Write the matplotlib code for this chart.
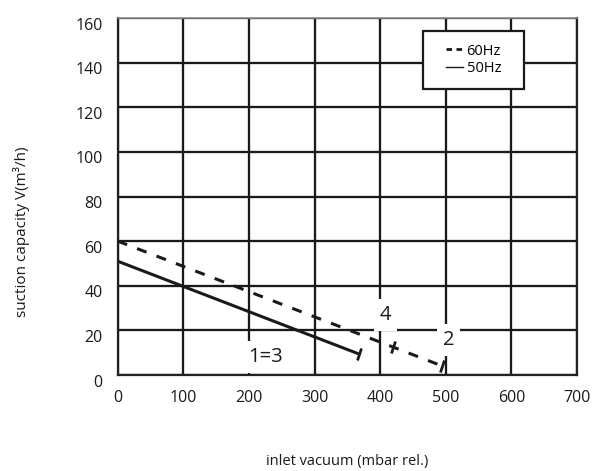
import numpy as np
import matplotlib
matplotlib.use("Agg")
import matplotlib.pyplot as plt
from matplotlib.markers import MarkerStyle
from matplotlib.transforms import Affine2D, ScaledTranslation
from matplotlib.patches import Rectangle
from matplotlib.lines import Line2D

plt.rcParams['font.family'] = ['Open Sans', 'DejaVu Sans']

# ---- data ----
x_60hz = [0, 495]
y_60hz = [60, 4]
x_50hz = [0, 367]
y_50hz = [51, 9.5]
mid_mark_60hz_x = [420]

region_labels = ["1=3", "4", "2"]
region_x = [225, 408, 504]
region_y = [8.2, 27, 15.7]

x_ticks = [0, 100, 200, 300, 400, 500, 600, 700]
y_ticks = [0, 20, 40, 60, 80, 100, 120, 140, 160]
legend_labels = ["60Hz", "50Hz"]
x_label = "inlet vacuum (mbar rel.)"
y_label = "suction capacity V(m³/h)"

# ---- figure ----
fig = plt.figure(figsize=(5.97, 4.71), dpi=100)
ax = fig.add_axes([117.7 / 597, 96 / 471, (577 - 117.7) / 597, 357 / 471])
ax.set_xlim(0, 700)
ax.set_ylim(0, 160)
ax.set_xticks(x_ticks)
ax.set_yticks(y_ticks)
ax.set_axisbelow(True)
ax.grid(True, color='#1a1a1a', lw=1.65)
for s in ax.spines.values():
    s.set_color('#222222')
    s.set_linewidth(1.6)
ax.spines['top'].set_color('#888888')
ax.spines['top'].set_linewidth(1.2)
ax.tick_params(axis='both', length=0, labelsize=11.5, colors='#1a1a1a')
ax.tick_params(axis='x', pad=10.5)
ax.tick_params(axis='y', pad=11)
off = ScaledTranslation(0, -4 / 72, fig.dpi_scale_trans)
for lab in ax.get_yticklabels():
    lab.set_transform(lab.get_transform() + off)

lw = 2.2
ax.plot(x_60hz, y_60hz, color='#1a1a1a', lw=lw, dashes=(3.3, 3.5), zorder=3,
        solid_capstyle='butt', dash_capstyle='butt')
ax.plot(x_50hz, y_50hz, color='#1a1a1a', lw=lw, zorder=3, solid_capstyle='butt')


def line_angle(xs, ys):
    p = ax.transData.transform(np.column_stack([xs, ys]))
    return np.degrees(np.arctan2(p[-1, 1] - p[0, 1], p[-1, 0] - p[0, 0]))


a60 = line_angle(x_60hz, y_60hz)
a50 = line_angle(x_50hz, y_50hz)
m60 = MarkerStyle('|', transform=Affine2D().rotate_deg(a60))
m50 = MarkerStyle('|', transform=Affine2D().rotate_deg(a50))
mx = [x_60hz[-1]] + mid_mark_60hz_x
my = [y_60hz[-1]] + list(np.interp(mid_mark_60hz_x, x_60hz, y_60hz))
ax.plot(mx, my, ls='none', marker=m60, ms=8.5, mew=2, color='#1a1a1a', zorder=3)
ax.plot([x_50hz[-1]], [y_50hz[-1]], ls='none', marker=m50, ms=8.5, mew=2,
        color='#1a1a1a', zorder=3)

for t, x, y in zip(region_labels, region_x, region_y):
    ax.text(x, y, t, fontsize=14.5, ha='center', va='center', color='#1a1a1a',
            zorder=1.5,
            bbox=dict(boxstyle='square,pad=0.3', fc='white', ec='none'))

# legend box
box = Rectangle(((423.3 - 117.7) / 459.3, (375 - 89.3) / 357),
                (524 - 423.3) / 459.3, (89.3 - 30.7) / 357,
                transform=ax.transAxes, fc='white', ec='#1a1a1a', lw=1.6,
                zorder=4)
ax.add_patch(box)
handles = [Line2D([], [], color='#1a1a1a', lw=2, dashes=(2.0, 1.6)),
           Line2D([], [], color='#1a1a1a', lw=1)]
cx = ((423.3 + 524) / 2 - 117.7) / 459.3
cy = (375 - (30.7 + 89.3) / 2) / 357
leg = ax.legend(handles, legend_labels, loc='center', bbox_to_anchor=(cx, cy),
                frameon=False, fontsize=10.5, handlelength=1.15,
                handletextpad=0.25, labelspacing=0.2, borderpad=0)
leg.set_zorder(5)

ax.set_xlabel(x_label, fontsize=10.5, color='#1a1a1a', va='center')
ax.xaxis.set_label_coords(0.5, (375 - 462) / 357)
ax.set_ylabel(y_label, fontsize=11, color='#1a1a1a', va='center')
ax.yaxis.set_label_coords((21.7 - 117.7) / 459.3, (375 - 231.5) / 357)

fig.savefig("out.png", dpi=100)
